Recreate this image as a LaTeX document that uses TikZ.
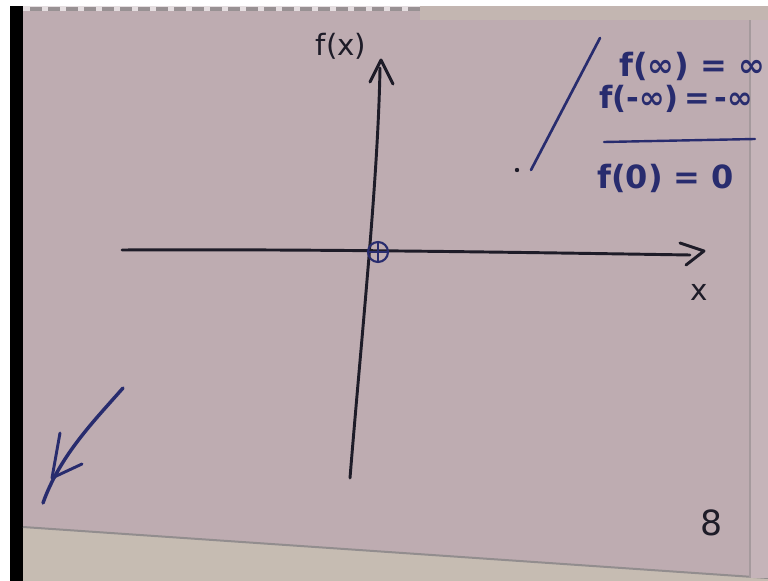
\documentclass[tikz,border=0pt]{standalone}
\usepackage{fontspec}
\setmainfont{DejaVu Sans}
\usetikzlibrary{calc}
\definecolor{paper}{RGB}{190,172,177}
\definecolor{beige}{RGB}{198,188,178}
\definecolor{ink}{RGB}{30,28,40}
\definecolor{blueink}{RGB}{40,44,110}
\tikzset{
  axis/.style={ink, line width=2.2pt, line cap=round, line join=round},
  bluepen/.style={blueink, line width=2.2pt, line cap=round, line join=round},
  hand/.style={inner sep=0pt, font=\fontsize{22}{24}\selectfont},
  formula/.style={hand, blueink, anchor=west, font=\fontsize{24}{26}\bfseries},
}
\begin{document}
\begin{tikzpicture}[x=0.75pt,y=-0.75pt]
\useasboundingbox (0,0) rectangle (768,581);
\clip (0,0) rectangle (768,581);
% background
\fill[white] (0,0) rectangle (768,581);
\fill[black] (10,6) rectangle (23,581);
\fill[paper] (23,6) rectangle (768,581);
\fill[beige] (23,527) -- (768,578) -- (768,581) -- (23,581) -- cycle;
\draw[gray!70!paper, line width=1.5pt] (23,527) -- (768,578);
\fill[paper!90!white] (750,20) rectangle (768,578);
\draw[gray!40!paper, line width=1pt] (750,20) -- (750,578);
\fill[white!60!paper] (23,6) rectangle (420,11);
\foreach \i in {0,...,21} {\fill[gray!60!paper] (30+\i*18,7) rectangle (42+\i*18,11);}
\fill[beige!60!paper] (420,6) rectangle (768,20);
% axes
\coordinate (xl) at (122,250);
\coordinate (xr) at (690,255);
\coordinate (yb) at (350,478);
\coordinate (yt) at (380,68);
\draw[axis] (xl) .. controls (300,249) and (500,252) .. (xr);
\draw[axis] ($(xr)+(-10,-12)$) -- ($(xr)+(14,-4)$) -- ($(xr)+(-4,10)$);
\draw[axis] (yb) .. controls (362,330) and (378,180) .. (yt);
\draw[axis] ($(yt)+(-10,14)$) -- ($(yt)+(1,-8)$) -- ($(yt)+(13,16)$);
\node[hand, ink] (xlab) at (699,292) {x};
\node[hand, ink] (flab) at (341,46) {f(x)};
% origin marker
\node[draw=blueink, circle, line width=1.6pt, minimum size=15pt, inner sep=0pt] (o) at (378,252) {};
\draw[blueink, line width=1pt] (o.north) -- (o.south) (o.west) -- (o.east);
% blue slash and dot
\coordinate (sa) at (531,170);
\coordinate (sb) at (600,38);
\draw[bluepen, line width=2pt] (sa) -- (sb);
\fill[ink] (517,170) circle (2.2);
% formulas
\node[formula] (e1) at (619,66) {f(∞) = ∞};
\node[formula, font=\fontsize{23}{25}\bfseries] (e2) at (599,99) {f(-∞)\,=\,-∞};
\coordinate (ul) at (604,142);
\coordinate (ur) at (755,139);
\draw[bluepen, line width=1.8pt] (ul) -- (ur);
\node[formula] (e3) at (597,178) {f(0) = 0};
% page number
\node[hand, ink, font=\fontsize{26}{28}\selectfont] (pg) at (712,523) {8};
% bottom-left arrow
\coordinate (a1) at (123,388);
\coordinate (a2) at (43,503);
\draw[bluepen, line width=2.6pt] (a1) .. controls (95,420) and (60,455) .. (a2);
\draw[bluepen] (60,433) -- (52,478) -- (82,464);
\end{tikzpicture}
\end{document}
